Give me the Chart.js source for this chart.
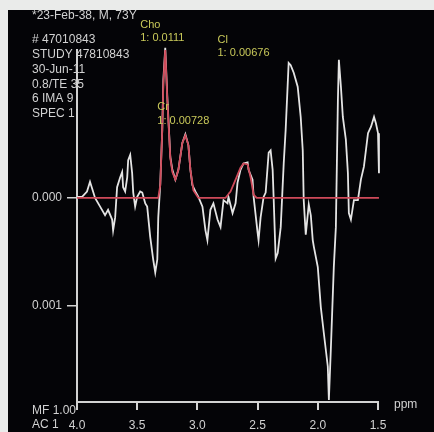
<!DOCTYPE html>
<html>
<head>
<meta charset="utf-8">
<script src="https://cdn.jsdelivr.net/npm/chart.js@4.4.1/dist/chart.umd.min.js"></script>
<style>
  html, body { margin: 0; padding: 0; background: #eaebea; }
  canvas { display: block; }
</style>
</head>
<body>
<canvas id="myChart" width="434" height="432"></canvas>
<script>

/********************* dati spettro *********************/
let ppm = [4.000, 3.958, 3.917, 3.892, 3.875, 3.850, 3.808, 3.767, 3.742, 3.708, 3.700, 3.683, 3.667, 3.642, 3.625, 3.617, 3.600, 3.583, 3.575, 3.558,
  3.542, 3.533, 3.517, 3.500, 3.475, 3.458, 3.433, 3.417, 3.392, 3.367, 3.350, 3.333, 3.325, 3.308, 3.292, 3.283, 3.267, 3.250, 3.225, 3.208,
  3.183, 3.158, 3.125, 3.100, 3.075, 3.058, 3.042, 3.017, 2.992, 2.958, 2.933, 2.917, 2.892, 2.867, 2.833, 2.808, 2.783, 2.750, 2.742, 2.708,
  2.683, 2.667, 2.642, 2.617, 2.583, 2.575, 2.542, 2.533, 2.500, 2.492, 2.475, 2.450, 2.433, 2.408, 2.392, 2.375, 2.367, 2.350, 2.333, 2.308,
  2.283, 2.267, 2.242, 2.225, 2.200, 2.167, 2.142, 2.125, 2.117, 2.100, 2.075, 2.058, 2.042, 2.033, 2.000, 1.975, 1.950, 1.917, 1.908, 1.892,
  1.867, 1.850, 1.833, 1.825, 1.808, 1.792, 1.767, 1.750, 1.742, 1.725, 1.700, 1.667, 1.642, 1.617, 1.583, 1.558, 1.533, 1.517, 1.500, 1.492];

let segnale = [0.00001, 0.00001, 0.00006, 0.00015, 0.00009, 0, -0.00008, -0.00016, -0.00011, -0.00020, -0.00030, -0.00018, 0.00010, 0.00019, 0.00024, 0.00010, 0.00006, 0.00019, 0.00035, 0.00040,
  0.00023, 0.00005, -0.00008, 0.00001, 0.00006, 0.00005, -0.00005, -0.00008, -0.00036, -0.00057, -0.00069, -0.00057, -0.00018, 0.00014, 0.00063, 0.00109, 0.00139, 0.00094, 0.00038, 0.00026,
  0.00017, 0.00026, 0.00051, 0.00059, 0.00049, 0.00026, 0.00012, 0.00006, 0.00001, -0.00008, -0.00030, -0.00039, -0.00011, -0.00005, -0.00020, -0.00027, -0.00002, -0.00005, 0.00001, -0.00014,
  -0.00005, 0.00014, 0.00026, 0.00032, 0.00033, 0.00026, 0.00017, 0.00001, -0.00032, -0.00039, -0.00018, 0.00001, 0.00005, 0.00042, 0.00044, 0.00026, 0.00001, -0.00056, -0.00051, -0.00027,
  0.00032, 0.00063, 0.00125, 0.00123, 0.00116, 0.00103, 0.00075, 0.00044, -0.00002, -0.00034, -0.00006, -0.00016, -0.00039, -0.00045, -0.00064, -0.00101, -0.00125, -0.00156, -0.00187, -0.00141,
  -0.00064, -0.00027, 0.00091, 0.00128, 0.00103, 0.00075, 0.00054, 0.00023, -0.00014, -0.00020, -0.00002, -0.00002, 0.00017, 0.00029, 0.00060, 0.00066, 0.00075, 0.00069, 0.00060, 0.00023];

/********************* curva di fit *********************/
let ppmFit = [4.000, 3.325, 3.308, 3.292, 3.283, 3.267, 3.250, 3.225, 3.208, 3.183, 3.158, 3.125, 3.100, 3.075, 3.058, 3.033, 2.992,
  2.767, 2.725, 2.683, 2.642, 2.617, 2.583, 2.558, 2.533, 2.508, 1.492];
let fit = [0, 0, 0.00012, 0.00063, 0.00105, 0.00137, 0.00091, 0.00037, 0.00024, 0.00017, 0.00026, 0.00051, 0.00058, 0.00049, 0.00026, 0.00007, 0,
  0, 0.00006, 0.00017, 0.00028, 0.00032, 0.00031, 0.00019, 0.00003, 0, 0];

/********************* assi e testi *********************/
let tickY = [0, -0.001];
let tickX = [4.0, 3.5, 3.0, 2.5, 2.0, 1.5];

let intestazione = ['*23-Feb-38, M, 73Y', '# 47010843', 'STUDY 47810843', '30-Jun-11', '0.8/TE 35', '6 IMA 9', 'SPEC 1'];
let metaboliti = ['Cho', 'Cr', 'Cl'];
let rapporti = ['1: 0.0111', '1: 0.00728', '1: 0.00676'];
let posMetaboliti = [3.475, 3.333, 2.833];

let grigio = '#d2d2d2';
let giallo = '#c9c95a';

let puntiSegnale = ppm.map((p, i) => ({ x: p, y: segnale[i] }));
let puntiFit = ppmFit.map((p, i) => ({ x: p, y: fit[i] }));

// sfondo grigio chiaro + pannello nero
const sfondo = {
  id: 'sfondo',
  beforeDraw(chart) {
    const c = chart.ctx;
    c.save();
    c.fillStyle = '#eaebea';
    c.fillRect(0, 0, chart.width, chart.height);
    c.fillStyle = '#040407';
    c.fillRect(8, 10, chart.width - 8, chart.height - 10);
    c.restore();
  }
};

// testi in alto a sinistra, etichette gialle, ppm ecc.
const testi = {
  id: 'testi',
  afterDraw(chart) {
    const c = chart.ctx;
    const x = chart.scales.x;
    c.save();
    c.font = '12px "Liberation Sans", Arial, sans-serif';
    c.fillStyle = grigio;
    c.textBaseline = 'middle';
    c.textAlign = 'left';
    let righe = [16, 40, 55, 70, 85, 99, 114];
    intestazione.forEach((t, i) => c.fillText(t, 32, righe[i]));

    c.fillText('MF 1.00', 32, 411);
    c.fillText('AC 1', 32, 425);
    c.fillText('ppm', 394, 405);

    c.fillStyle = giallo;
    c.font = '11px "Liberation Sans", Arial, sans-serif';
    let yNome = [25, 107, 40];
    let yRapp = [38, 121, 53];
    metaboliti.forEach((m, i) => {
      let px = x.getPixelForValue(posMetaboliti[i]);
      c.fillText(m, px, yNome[i]);
      c.fillText(rapporti[i], px, yRapp[i]);
    });
    c.restore();
  }
};

var ctx = document.getElementById('myChart');
var myChart = new Chart(ctx, {
  type: 'line',
  data: {
    datasets: [{
      label: 'fit',
      data: puntiFit,
      borderColor: '#cf4a5a',
      borderWidth: 1.8,
      pointRadius: 0,
      tension: 0,
      clip: false,
      order: 0
    }, {
      label: 'spettro',
      data: puntiSegnale,
      borderColor: '#e4e4e4',
      borderWidth: 1.8,
      pointRadius: 0,
      tension: 0,
      clip: false,
      order: 1
    }]
  },
  options: {
    responsive: false,
    animation: false,
    devicePixelRatio: 1,
    layout: { padding: { top: 50, right: 56, left: 0, bottom: 0 } },
    plugins: {
      legend: { display: false },
      tooltip: { enabled: false }
    },
    scales: {
      x: {
        type: 'linear',
        reverse: true,
        min: 1.5,
        max: 4.0,
        afterFit: s => { s.height = 30; },
        afterBuildTicks: s => { s.ticks = tickX.map(v => ({ value: v })); },
        grid: { drawOnChartArea: false, color: grigio, tickLength: 8, lineWidth: 2 },
        border: { display: true, color: grigio, width: 2 },
        ticks: {
          color: grigio,
          padding: 8,
          maxRotation: 0,
          font: { family: 'Liberation Sans', size: 12 },
          callback: v => v.toFixed(1)
        }
      },
      y: {
        min: -0.001889,
        max: 0.00137,
        afterFit: s => { s.width = 77; },
        afterBuildTicks: s => { s.ticks = tickY.map(v => ({ value: v })); },
        grid: { drawOnChartArea: false, color: grigio, tickLength: 10, lineWidth: 1.5 },
        border: { display: true, color: grigio, width: 2 },
        ticks: {
          color: grigio,
          padding: 5,
          font: { family: 'Liberation Sans', size: 12 },
          callback: v => Math.abs(v).toFixed(3)
        }
      }
    }
  },
  plugins: [sfondo, testi]
});

</script>
</body>
</html>
